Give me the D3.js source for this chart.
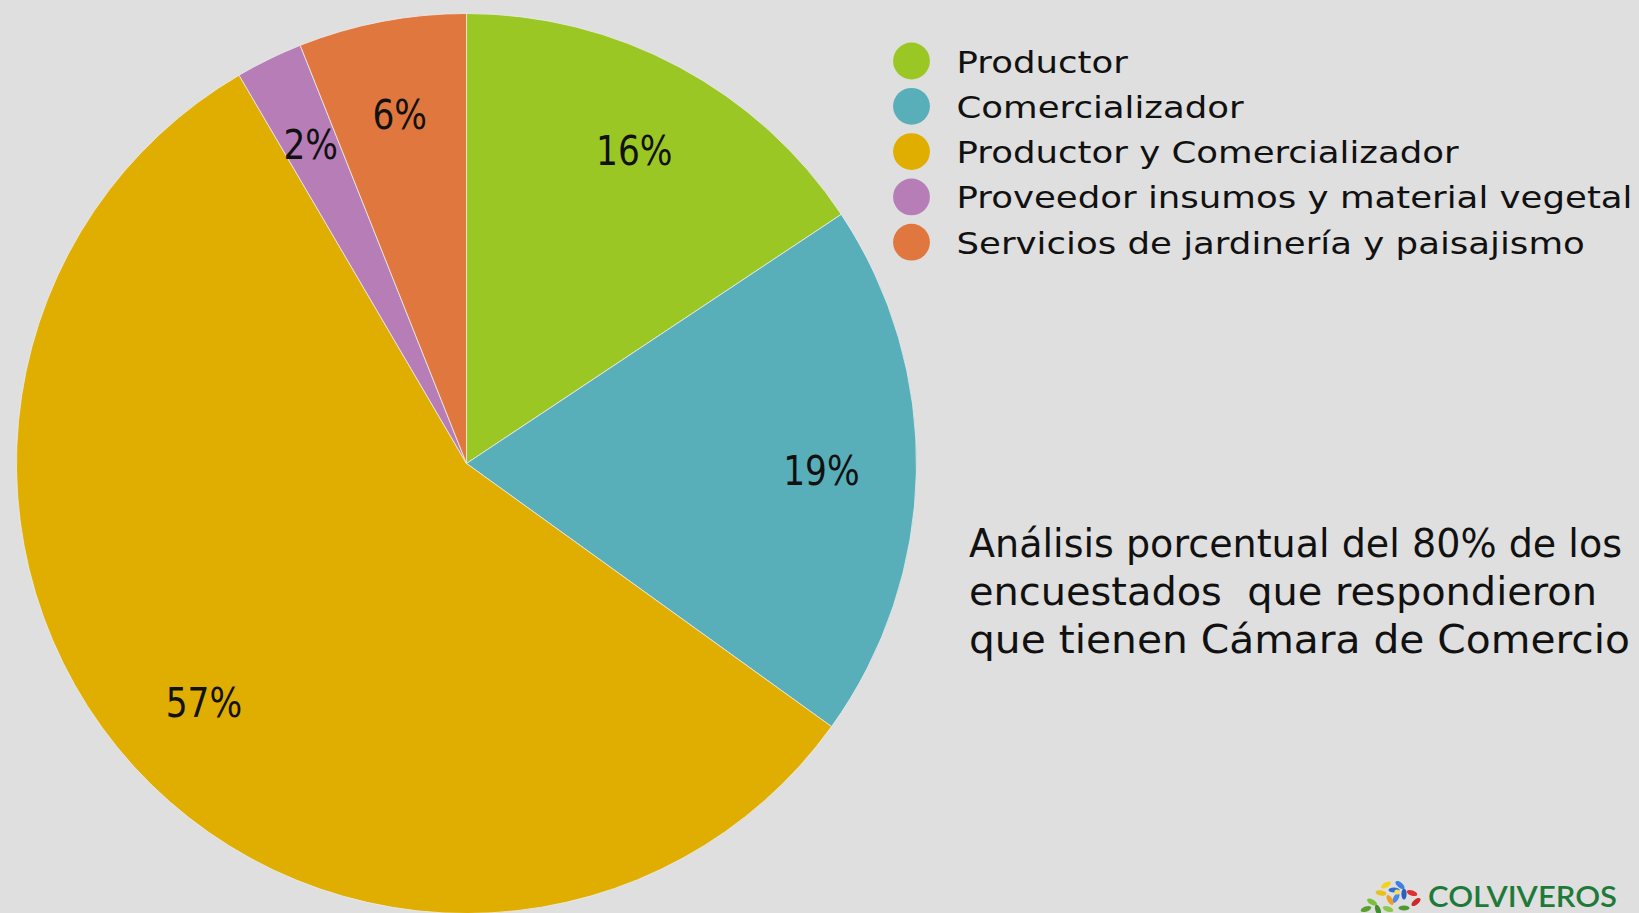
<!DOCTYPE html>
<html>
	<head>
		<meta charset="utf-8" />
		<script src="https://d3js.org/d3.v7.min.js"></script>
		<style>
			html, body {
				margin: 0;
				padding: 0;
				background: #dfdfdf;
				overflow: hidden;
			}
			svg {
				display: block;
				font-family: "Century Gothic", "DejaVu Sans", sans-serif;
			}
		</style>
		<title>Análisis porcentual</title>
	</head>
	<body>
		<div id="chart"></div>
		<script>
			// respondents per activity (83 in total)
			const categories = [
				"Productor",
				"Comercializador",
				"Productor y Comercializador",
				"Proveedor insumos y material vegetal",
				"Servicios de jardinería y paisajismo",
			];
			const counts = [13, 16, 47, 2, 5];
			const colors = ["#9bc724", "#58afb9", "#dfae00", "#b67db6", "#e0773e"];
			const noteLines = [
				"Análisis porcentual del 80% de los",
				"encuestados  que respondieron",
				"que tienen Cámara de Comercio",
			];

			const width = 1639,
				height = 913,
				cx = 466.5,
				cy = 463.5,
				radius = 450,
				labelRadius = 355;

			const svg = d3
				.select("#chart")
				.append("svg")
				.attr("width", width)
				.attr("height", height);

			svg.append("rect")
				.attr("width", width)
				.attr("height", height)
				.attr("fill", "#dfdfdf");

			const data = categories.map((c, i) => ({ name: c, value: counts[i], color: colors[i] }));
			const total = d3.sum(counts);

			const pie = d3.pie().sort(null).value((d) => d.value);
			const arc = d3.arc().innerRadius(0).outerRadius(radius);
			const labelArc = d3.arc().innerRadius(labelRadius).outerRadius(labelRadius);

			const g = svg.append("g").attr("transform", `translate(${cx},${cy})`);

			// slices
			g.selectAll("path")
				.data(pie(data))
				.join("path")
				.attr("d", arc)
				.attr("fill", (d) => d.data.color)
				.attr("stroke", "#ececec")
				.attr("stroke-width", 0.8);

			// percentage labels
			g.selectAll("text")
				.data(pie(data))
				.join("text")
				.attr("transform", (d) => `translate(${labelArc.centroid(d)})`)
				.attr("text-anchor", "middle")
				.attr("dy", "0.36em")
				.attr("font-size", 40)
				.attr("fill", "#111")
				.text((d) => Math.round((d.value / total) * 100) + "%")
				.each(function () {
					// squeeze the fallback font to the width of the original
					const w = this.getComputedTextLength();
					d3.select(this).attr("textLength", w * 0.86).attr("lengthAdjust", "spacingAndGlyphs");
				});

			// legend
			const legend = svg.append("g").attr("transform", "translate(911.5,61)");
			const rows = legend
				.selectAll("g")
				.data(data)
				.join("g")
				.attr("transform", (d, i) => `translate(0,${i * 45.3})`);

			rows.append("circle").attr("r", 18.4).attr("fill", (d) => d.color);

			rows.append("text")
				.attr("x", 45)
				.attr("y", 11.5)
				.attr("font-size", 30)
				.attr("fill", "#111")
				.text((d) => d.name);

			// fit legend to the width of the longest label
			const longest = d3.max(rows.selectAll("text").nodes(), (n) => n.getComputedTextLength());
			const sx = 676 / longest;
			rows.selectAll("text").each(function () {
				d3.select(this)
					.attr("textLength", this.getComputedTextLength() * sx)
					.attr("lengthAdjust", "spacingAndGlyphs");
			});

			// note on the right
			const noteWidths = [653, 628, 661];
			svg.append("g")
				.selectAll("text")
				.data(noteLines)
				.join("text")
				.attr("x", 969)
				.attr("y", (d, i) => 556.7 + i * 48)
				.attr("font-size", 39)
				.attr("fill", "#111")
				.attr("xml:space", "preserve")
				.style("white-space", "pre")
				.attr("textLength", (d, i) => noteWidths[i])
				.attr("lengthAdjust", "spacingAndGlyphs")
				.text((d) => d);

			// COLVIVEROS logo, bottom right
			const logo = svg.append("g").attr("transform", "translate(1360,878)");
			const petals = [
				[34, 12, "#2f6fd0", 0], [40, 7, "#3b82e0", 40], [44, 16, "#2a5fc0", 90],
				[36, 20, "#4a8ae8", -60], [26, 7, "#f2d21a", -30], [21, 15, "#e8c020", 10],
				[30, 22, "#f0a020", 60], [52, 15, "#e03030", 20], [56, 24, "#d02828", -40],
				[12, 24, "#7cbf3a", 30], [6, 31, "#5aa030", -20], [18, 32, "#3f8f2a", 70],
				[44, 30, "#4a9a30", 0], [28, 31, "#8cc84a", 20],
			];
			logo.selectAll("ellipse")
				.data(petals)
				.join("ellipse")
				.attr("cx", (d) => d[0])
				.attr("cy", (d) => d[1])
				.attr("rx", 5.5)
				.attr("ry", 2.6)
				.attr("fill", (d) => d[2])
				.attr("transform", (d) => `rotate(${d[3]},${d[0]},${d[1]})`);
			logo.append("circle").attr("cx", 37).attr("cy", 14).attr("r", 2.6).attr("fill", "#f5e050");

			svg.append("text")
				.attr("x", 1428)
				.attr("y", 906.5)
				.attr("font-family", "Lato, 'DejaVu Sans', sans-serif")
				.attr("font-weight", 600)
				.attr("font-size", 28)
				.attr("fill", "#1f7a3a")
				.attr("textLength", 189)
				.attr("lengthAdjust", "spacingAndGlyphs")
				.text("COLVIVEROS");
		</script>
	</body>
</html>
